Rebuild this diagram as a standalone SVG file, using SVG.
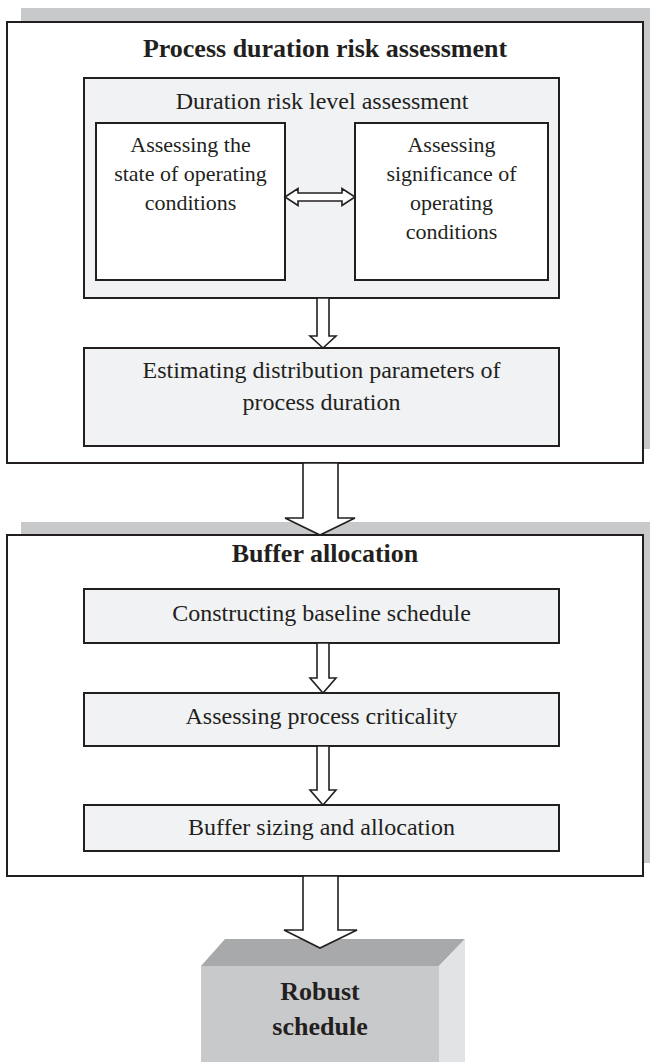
<svg xmlns="http://www.w3.org/2000/svg" width="650" height="1062" viewBox="0 0 650 1062">
<style>
.shadow{fill:#c8c9cb;stroke:none}
.frame{fill:#ffffff;stroke:#231f20;stroke-width:2}
.panel{fill:#f1f2f4;stroke:#231f20;stroke-width:2}
.white{fill:#ffffff;stroke:#231f20;stroke-width:2}
.arrow{fill:#ffffff;stroke:#231f20;stroke-width:1.6;stroke-linejoin:miter}
text{font-family:"Liberation Serif","Times New Roman",serif;fill:#231f20;text-anchor:middle}
.title{font-size:26px;font-weight:bold}
.body{font-size:24px}
.small{font-size:22px}
</style>
<rect width="650" height="1062" fill="#ffffff"/>

<g id="risk-assessment">
<rect class="shadow" x="21" y="8" width="636" height="441"/>
<rect class="frame" x="7" y="22" width="636" height="441"/>
<text class="title" x="325" y="57">Process duration risk assessment</text>
</g>

<g id="duration-risk-level">
<rect class="panel" x="84" y="78" width="475" height="220"/>
<text class="body" x="322" y="109">Duration risk level assessment</text>
</g>

<g id="state-conditions">
<rect class="white" x="96" y="123" width="189" height="157"/>
<text class="small" x="190.5" y="152">Assessing the</text>
<text class="small" x="190.5" y="181">state of operating</text>
<text class="small" x="190.5" y="210">conditions</text>
</g>

<g id="significance-conditions">
<rect class="white" x="355" y="123" width="193" height="157"/>
<text class="small" x="451.5" y="152">Assessing</text>
<text class="small" x="451.5" y="181">significance of</text>
<text class="small" x="451.5" y="210">operating</text>
<text class="small" x="451.5" y="239">conditions</text>
</g>

<g id="estimating">
<rect class="panel" x="84" y="348" width="475" height="98"/>
<text class="body" x="321.5" y="378">Estimating distribution parameters of</text>
<text class="body" x="321.5" y="410">process duration</text>
</g>

<g id="buffer-allocation">
<rect class="shadow" x="21" y="522" width="636" height="341"/>
<rect class="frame" x="7" y="535" width="636" height="341"/>
<text class="title" x="325" y="562">Buffer allocation</text>
</g>

<g id="baseline">
<rect class="panel" x="84" y="589" width="475" height="54"/>
<text class="body" x="321.5" y="621">Constructing baseline schedule</text>
</g>

<g id="criticality">
<rect class="panel" x="84" y="693" width="475" height="53"/>
<text class="body" x="321.5" y="724">Assessing process criticality</text>
</g>

<g id="sizing">
<rect class="panel" x="84" y="805" width="475" height="46"/>
<text class="body" x="321.5" y="835">Buffer sizing and allocation</text>
</g>

<g id="robust-schedule">
<polygon points="201,966 225,939 465,939 439,966" fill="#a8a9ab"/>
<polygon points="439,966 465,939 465,1062 439,1062" fill="#e2e3e4"/>
<rect x="201" y="966" width="238" height="96" fill="#c8c9cb"/>
<text class="title" x="320" y="1000">Robust</text>
<text class="title" x="320" y="1035">schedule</text>
</g>

<g id="connectors">
<polygon class="arrow" points="285,197 298,188.5 298,193 342,193 342,188.5 355,197 342,205.5 342,201 298,201 298,205.5"/>
<polygon class="arrow" points="317,298 329,298 329,336 336,336 323,348 310,336 317,336"/>
<polygon class="arrow" points="303,463 338,463 338,518 355,518 320,535 285,518 303,518"/>
<polygon class="arrow" points="317,643 329,643 329,678 336,678 323,693 310,678 317,678"/>
<polygon class="arrow" points="317,746 329,746 329,790 336,790 323,805 310,790 317,790"/>
<polygon class="arrow" points="303,876 338,876 338,930 357,930 320,948 284,930 303,930"/>
</g>
</svg>
